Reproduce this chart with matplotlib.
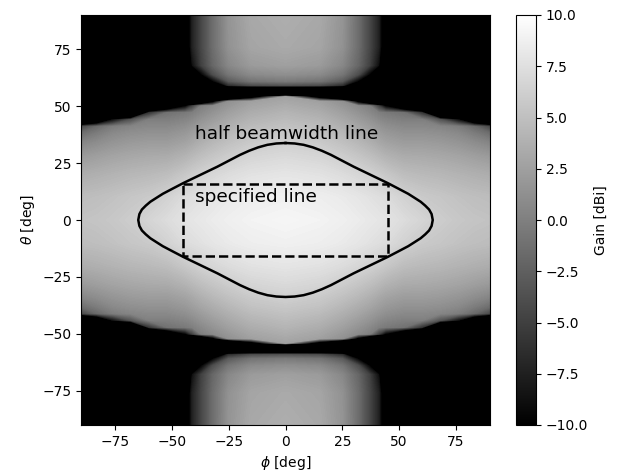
import numpy as np
import matplotlib
matplotlib.use("Agg")
import matplotlib.pyplot as plt
from matplotlib.colors import Normalize
from matplotlib.cm import ScalarMappable

# gain [dBi] for one quadrant (phi >= 0, theta >= 0),
# the pattern is symmetric so the rest is mirrored
phi_nodes = [0, 15, 25, 32, 37, 41, 44, 52, 60, 68, 76, 83, 90]
theta_nodes = [0, 10, 20, 28, 34, 38, 41, 44, 47, 50, 52, 54,
               55.5, 57.5, 59, 61, 64, 68, 76, 90]
N = -30  # deep null (shown black)
gain_quadrant = [
    [9.2, 9.0, 8.7, 8.4, 8.15, 7.95, 7.8, 7.2, 6.6, 6.0, 5.6, 5.35, 5.2],
    [8.8, 8.6, 8.3, 7.95, 7.65, 7.4, 7.2, 6.4, 5.8, 5.5, 5.15, 4.9, 4.75],
    [7.9, 7.65, 7.2, 6.75, 6.35, 5.95, 5.6, 4.8, 4.5, 4.3, 4.0, 3.75, 3.5],
    [7.0, 6.65, 6.0, 5.4, 4.9, 4.4, 4.0, 3.4, 3.3, 3.1, 2.8, 2.4, 2.0],
    [6.2, 5.75, 5.0, 4.3, 3.7, 3.1, 2.7, 2.2, 2.2, 2.0, 1.6, 1.0, 0.3],
    [5.6, 5.15, 4.3, 3.5, 2.9, 2.3, 1.9, 1.4, 1.4, 1.2, 0.7, -0.3, -1.5],
    [5.1, 4.6, 3.7, 2.9, 2.2, 1.6, 1.2, 0.7, 0.7, 0.4, -0.3, -1.8, -4.5],
    [4.6, 4.05, 3.1, 2.2, 1.5, 0.8, 0.4, -0.1, 0.0, -3.5, -9, -20, N],
    [4.1, 3.5, 2.5, 1.5, 0.7, -0.1, -0.5, -1.1, -6, N, N, N, N],
    [3.5, 2.9, 1.8, 0.8, -0.1, -5, -10, -20, N, N, N, N, N],
    [3.1, 2.5, 1.3, -12, -22, N, N, N, N, N, N, N, N],
    [2.6, -14, N, N, N, N, N, N, N, N, N, N, N],
    [N, N, N, N, N, N, N, N, N, N, N, N, N],
    [N, N, N, N, N, N, N, N, N, N, N, N, N],
    [-4, -4.5, -7, -25, N, N, N, N, N, N, N, N, N],
    [-0.5, -1, -3, -10, -22, N, N, N, N, N, N, N, N],
    [1.2, 0.8, -0.8, -4, -10, -22, N, N, N, N, N, N, N],
    [2.5, 2.1, 0.6, -2, -5, -9, -25, N, N, N, N, N, N],
    [3.3, 2.9, 1.4, -1.5, -4.5, -7.5, -14, N, N, N, N, N, N],
    [3.6, 3.2, 1.6, -1.5, -4.5, -7.5, -14, N, N, N, N, N, N],
]

# half beamwidth line, upper right quarter (phi, theta)
hbw_phi = [0, 4, 8, 12, 16, 20, 25, 30, 35, 40, 45, 50, 54, 57, 59.5,
           61.5, 63.2, 64.3, 64.8]
hbw_theta = [33.8, 33.6, 33.0, 31.9, 30.4, 28.6, 26.0, 23.4, 21.0, 18.6,
             16.2, 13.6, 11.5, 9.6, 8.0, 6.3, 4.6, 2.6, 0]

# specified line (rectangle)
spec_phi = 45
spec_theta = 15.6


def mirror_grid(phi, theta, g):
    phi = np.array(phi, dtype=float)
    theta = np.array(theta, dtype=float)
    g = np.array(g, dtype=float)
    phi_full = np.concatenate([-phi[:0:-1], phi])
    theta_full = np.concatenate([-theta[:0:-1], theta])
    g = np.concatenate([g[:, :0:-1], g], axis=1)
    g = np.concatenate([g[:0:-1, :], g], axis=0)
    return phi_full, theta_full, g


def plot_gain():
    phi, theta, g = mirror_grid(phi_nodes, theta_nodes, gain_quadrant)

    fig = plt.figure(figsize=(6.2, 4.75), dpi=100)
    ax = fig.add_axes([81 / 620, 50 / 475, 409 / 620, 410 / 475])
    cax = fig.add_axes([516 / 620, 50 / 475, 20 / 620, 410 / 475])

    ax.contourf(phi, theta, g, levels=np.linspace(-10, 10, 161),
                cmap="gray", extend="both", antialiased=False)

    qp = np.array(hbw_phi)
    qt = np.array(hbw_theta)
    loop_phi = np.concatenate([qp, qp[::-1], -qp, -qp[::-1]])
    loop_theta = np.concatenate([qt, -qt[::-1], -qt, qt[::-1]])
    ax.plot(loop_phi, loop_theta, color="black", lw=1.8)

    ax.plot([-spec_phi, spec_phi, spec_phi, -spec_phi, -spec_phi],
            [spec_theta, spec_theta, -spec_theta, -spec_theta, spec_theta],
            color="black", ls="--", lw=1.8)

    ax.text(-40, 35.5, "half beamwidth line", fontsize=13.3)
    ax.text(-40, 8, "specified line", fontsize=13.3)

    ax.set_xlim(-90, 90)
    ax.set_ylim(-90, 90)
    ax.set_xticks([-75, -50, -25, 0, 25, 50, 75])
    ax.set_yticks([-75, -50, -25, 0, 25, 50, 75])
    ax.set_xlabel(r"$\phi$ [deg]")
    ax.set_ylabel(r"$\theta$ [deg]")

    sm = ScalarMappable(norm=Normalize(-10, 10), cmap="gray")
    cb = fig.colorbar(sm, cax=cax)
    cb.set_ticks(np.arange(-10, 10.1, 2.5))
    cb.set_label("Gain [dBi]")

    fig.savefig("out.png", dpi=100)


if __name__ == "__main__":
    plot_gain()
